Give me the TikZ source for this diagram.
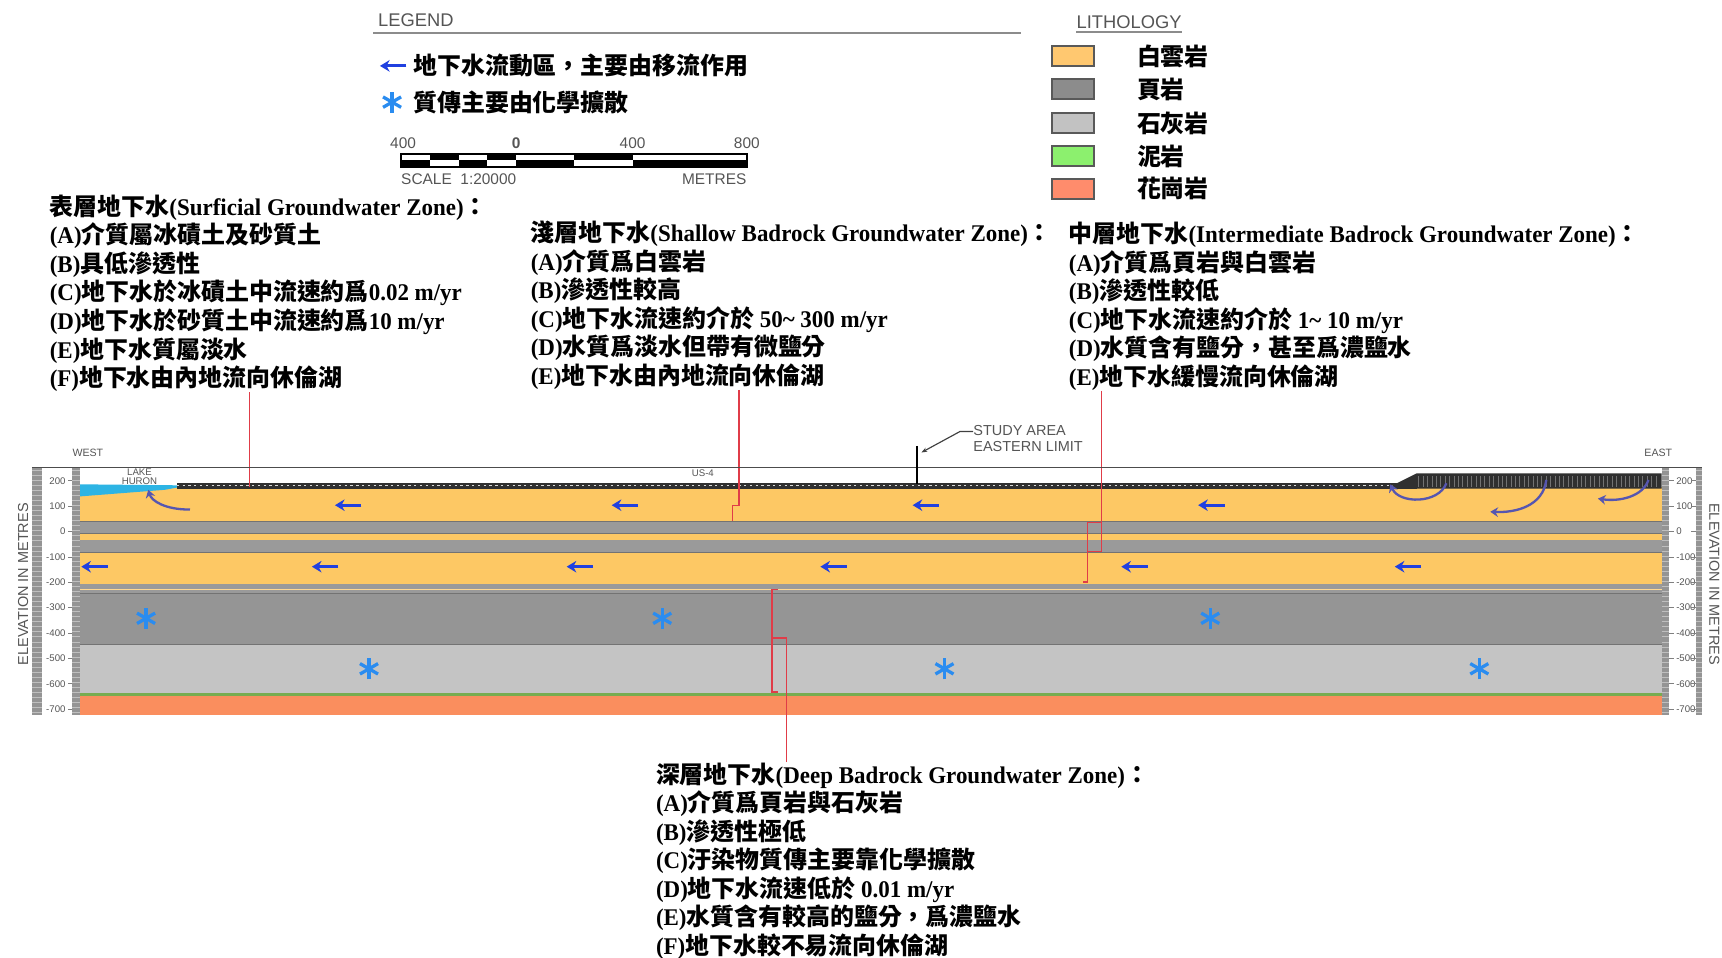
\documentclass[tikz,border=0pt]{standalone}
\usepackage{fontspec}
\usepackage{tikz}
\usetikzlibrary{positioning,arrows.meta}
\setmainfont{Liberation Serif}[FakeStretch=0.96]
\newfontfamily\cjk{Noto Sans CJK TC}
\newfontfamily\lab{Liberation Sans}
\newcommand{\zh}[1]{{\cjk #1}}
\definecolor{dolo}{HTML}{FDC864}
\definecolor{shale}{HTML}{9A9A9A}
\definecolor{dshale}{HTML}{959595}
\definecolor{lime}{HTML}{C4C4C4}
\definecolor{mud}{HTML}{78AC50}
\definecolor{granite}{HTML}{FA8E5E}
\definecolor{ldol}{HTML}{FFC870}
\definecolor{lsh}{HTML}{8C8C8C}
\definecolor{llime}{HTML}{C2C2C2}
\definecolor{lmud}{HTML}{8CF06E}
\definecolor{lgran}{HTML}{FF8C6C}
\definecolor{lake}{HTML}{2DB4E4}
\definecolor{till}{HTML}{303030}
\definecolor{flowblue}{HTML}{2040E0}
\definecolor{diffblue}{HTML}{2A8CF0}
\definecolor{swirlblue}{HTML}{5656B0}
\definecolor{leadred}{HTML}{E03C48}
\definecolor{labgray}{HTML}{555555}

\begin{document}
\begin{tikzpicture}[x=0.02cm, y=-0.02cm,
  note/.style={anchor=north west, inner sep=0pt, align=left, font=\bfseries\fontsize{12.4}{14.8}\selectfont},
  heading/.style={inner sep=0pt, text=labgray, font=\lab\fontsize{9.5}{11}\selectfont},
  axislab/.style={inner sep=0pt, text=labgray, font=\lab\fontsize{5}{6}\selectfont},
  litho/.style={draw=black!65, line width=1pt, minimum width=0.76cm, minimum height=0.36cm, inner sep=0pt},
  flow/.style={-{Stealth[length=5pt,width=6pt]}, line width=1.5pt, flowblue},
  swirl/.style={-{Stealth[length=4pt,width=5pt]}, line width=1.2pt, swirlblue},
  leadline/.style={leadred, line width=0.7pt},
  ruler/.style={fill=black!42},
  diffstar/.pic={\foreach \a in {90,30,150} \draw[diffblue, line width=1.7pt] (\a:9.5) -- ({\a+180}:9.5);}]
\useasboundingbox[fill=white] (0,0) rectangle (1568,872);

\node[heading, anchor=west] (legend) at (344,18) {LEGEND};
\draw[black!45, line width=1.2pt] (340,30) -- (930,30);
\draw[flow] (370,60) -- (346,60);
\node[note, anchor=west] (advect) at (376,60) {\zh{地下水流動區，主要由移流作用}};
\pic at (357,93) {diffstar};
\node[note, anchor=west] (diffuse) at (376,93) {\zh{質傳主要由化學擴散}};

\foreach \a/\b [count=\i] in {365/391.25,391.25/417.5,417.5/443.75,443.75/470,470/523,523/576,576/680}
  {\ifodd\i \fill (\a,146) rectangle (\b,152); \else \fill (\a,140) rectangle (\b,146); \fi}
\draw[line width=0.8pt] (365,140) rectangle (680,152);
\node[heading, font=\lab\fontsize{8}{9}\selectfont] (sc1) at (367,130) {400};
\node[heading, font=\lab\bfseries\fontsize{8}{9}\selectfont] (sc2) at (470,130) {0};
\node[heading, font=\lab\fontsize{8}{9}\selectfont] (sc3) at (576,130) {400};
\node[heading, font=\lab\fontsize{8}{9}\selectfont] (sc4) at (680,130) {800};
\node[heading, anchor=west, font=\lab\fontsize{8}{9}\selectfont] (scale) at (365,163) {SCALE\ \ 1:20000};
\node[heading, anchor=east, font=\lab\fontsize{8}{9}\selectfont] (metres) at (680,163) {METRES};

\node[heading, anchor=west] (lithology) at (980,20) {LITHOLOGY};
\draw[black!45, line width=1pt] ([yshift=-1.5pt]lithology.south west) -- ([yshift=-1.5pt]lithology.south east);
\node[litho, fill=ldol] (bdol) at (977,51) {};
\node[litho, fill=lsh] (bsh) at (977,81) {};
\node[litho, fill=llime] (blime) at (977,112) {};
\node[litho, fill=lmud] (bmud) at (977,142) {};
\node[litho, fill=lgran] (bgran) at (977,172) {};
\node[note, anchor=west] (tdol) at (1035,51) {\zh{白雲岩}};
\node[note, anchor=west] (tsh) at (1035,81) {\zh{頁岩}};
\node[note, anchor=west] (tlime) at (1035,112) {\zh{石灰岩}};
\node[note, anchor=west] (tmud) at (1035,142) {\zh{泥岩}};
\node[note, anchor=west] (tgran) at (1035,172) {\zh{花崗岩}};

\node[note] (surf) at (45,177) {\zh{表層地下水}(Surficial Groundwater Zone)\zh{：}\\
(A)\zh{介質屬冰磧土及砂質土}\\
(B)\zh{具低滲透性}\\
(C)\zh{地下水於冰磧土中流速約爲}0.02 m/yr\\
(D)\zh{地下水於砂質土中流速約爲}10 m/yr\\
(E)\zh{地下水質屬淡水}\\
(F)\zh{地下水由內地流向休倫湖}};
\node[note] (shal) at (483,201) {\zh{淺層地下水}(Shallow Badrock Groundwater Zone)\zh{：}\\
(A)\zh{介質爲白雲岩}\\
(B)\zh{滲透性較高}\\
(C)\zh{地下水流速約介於} 50\textasciitilde{} 300 m/yr\\
(D)\zh{水質爲淡水但帶有微鹽分}\\
(E)\zh{地下水由內地流向休倫湖}};
\node[note] (inter) at (973,202) {\zh{中層地下水}(Intermediate Badrock Groundwater Zone)\zh{：}\\
(A)\zh{介質爲頁岩與白雲岩}\\
(B)\zh{滲透性較低}\\
(C)\zh{地下水流速約介於} 1\textasciitilde{} 10 m/yr\\
(D)\zh{水質含有鹽分，甚至爲濃鹽水}\\
(E)\zh{地下水緩慢流向休倫湖}};
\node[note] (deep) at (597,694) {\zh{深層地下水}(Deep Badrock Groundwater Zone)\zh{：}\\
(A)\zh{介質爲頁岩與石灰岩}\\
(B)\zh{滲透性極低}\\
(C)\zh{汙染物質傳主要靠化學擴散}\\
(D)\zh{地下水流速低於} 0.01 m/yr\\
(E)\zh{水質含有較高的鹽分，爲濃鹽水}\\
(F)\zh{地下水較不易流向休倫湖}};

\foreach \t/\b/\c in {443/475/dolo,475/486/shale,486/492/dolo,492/503/shale,503/532/dolo,532/540/shale,540/587/dshale,587/631/lime,631/634/mud,634/651/granite}
  \fill[\c] (73,\t) rectangle (1513,\b);
\draw[dolo!70!white, line width=0.6pt] (73,537) -- (1513,537);
\foreach \yy in {475,486,503,540,587}
  \draw[black!55, line width=0.4pt] (73,\yy) -- (1513,\yy);
\fill[lake] (73,441) -- (172,442) -- (150,446) -- (73,452) -- cycle;
\fill[till] (161,440) rectangle (1290,445);
\draw[white!85!black, line width=0.5pt, dash pattern=on 1.2pt off 1.8pt] (161,442.5) -- (1290,442.5);
\fill[till] (1262,445) -- (1290,431) -- (1513,431) -- (1513,445) -- cycle;
\foreach \xx in {1292,1296,...,1510}
  \draw[black!55, line width=0.5pt] (\xx,433) -- (\xx,443);

\foreach \xx in {317,569,843,1103} \draw[flow] (\xx+12,460) -- (\xx-12,460);
\foreach \xx in {86,296,528,759,1033,1282} \draw[flow] (\xx+12,516) -- (\xx-12,516);
\foreach \xx in {133,603,1102} \pic at (\xx,563) {diffstar};
\foreach \xx in {336,860,1347} \pic at (\xx,609) {diffstar};
\draw[swirl] (173,464) .. controls (150,464) and (138,456) .. (135,446);
\draw[swirl] (1317,440) .. controls (1310,459) and (1274,459) .. (1266,441);
\draw[swirl] (1408,437) .. controls (1405,461) and (1380,467) .. (1357,466);
\draw[swirl] (1501,437) .. controls (1496,452) and (1475,457) .. (1455,454);

\coordinate (surfpt) at (227,443);
\coordinate (shalx) at (673,460);
\coordinate (shalpt) at (667,474);
\coordinate (interx) at (1003,502);
\coordinate (deepx) at (716,581);
\draw[leadline] (surf.south -| surfpt) -- (surfpt);
\draw[leadline] (shal.south -| shalx) -- (shalx) -- (667,460) -- (shalpt);
\draw[leadline] (inter.south -| interx) -- (interx) -- (990,502);
\draw[leadline] (1003,476) -- (990,476) -- (990,530) -- (986,530);
\draw[leadline] (deep.north -| deepx) -- (deepx) -- (703,581);
\draw[leadline] (708,537) -- (703,537) -- (703,630) -- (708,630);

\draw[black!70, line width=0.6pt] (29,426) -- (1550,426);
\foreach \xa/\xb in {29/38,66/73,1513/1520,1544/1550} {
  \fill[ruler] (\xa,426) rectangle (\xb,651);
  \foreach \yy in {428,432.6,...,651} \draw[white!75!black, line width=0.3pt] (\xa,\yy) -- (\xb,\yy);
}
\foreach \e in {200,100,0,-100,-200,-300,-400,-500,-600,-700} {
  \node[axislab, anchor=east] (lax\e) at (60,{484-0.231*\e}) {\e};
  \node[axislab, anchor=west] (rax\e) at (1526,{484-0.231*\e}) {\e};
  \draw[black!50, line width=0.4pt] (62,{484-0.231*\e}) -- (66,{484-0.231*\e});
  \draw[black!50, line width=0.4pt] (1520,{484-0.231*\e}) -- (1524,{484-0.231*\e}) (1540,{484-0.231*\e}) -- (1544,{484-0.231*\e});
}
\node[heading, rotate=90, font=\lab\fontsize{7.5}{9}\selectfont] (elevl) at (21,532) {ELEVATION IN METRES};
\node[heading, rotate=-90, font=\lab\fontsize{7.5}{9}\selectfont] (elevr) at (1561,532) {ELEVATION IN METRES};
\node[axislab, font=\lab\fontsize{5.5}{6}\selectfont] (west) at (80,412) {WEST};
\node[axislab, font=\lab\fontsize{5.5}{6}\selectfont] (east) at (1510,412) {EAST};
\node[axislab, align=center, font=\lab\fontsize{5}{4.6}\selectfont] (huron) at (127,434) {LAKE\\HURON};
\node[axislab] (us4) at (640,431) {US-4};

\node[heading, anchor=north west, align=left, font=\lab\fontsize{7.5}{8.5}\selectfont] (study) at (886,387) {STUDY AREA\\EASTERN LIMIT};
\coordinate (limit) at (839,412);
\draw[black!75, line width=0.6pt, -{Stealth[length=3pt]}] ([yshift=-3.4pt]study.north west) -- ++(-12,0) -- (limit);
\draw[line width=1.4pt] (835,406) -- (835,441);
\end{tikzpicture}
\end{document}
